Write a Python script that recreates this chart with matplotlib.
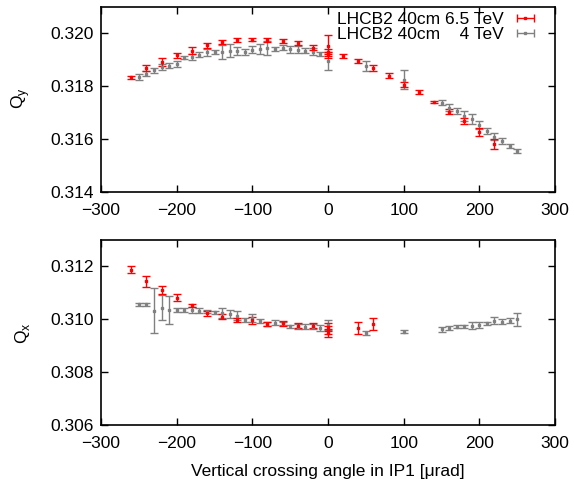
import matplotlib
matplotlib.use('Agg')
import matplotlib.pyplot as plt
import numpy as np

plt.rcParams['font.family'] = ['Liberation Sans', 'DejaVu Sans']
plt.rcParams['font.size'] = 12.5

RED = '#ff0000'
GRAY = '#808080'

# --- top panel (Qy) ---
qy_red_x = [-260, -240, -220, -200, -180, -160, -140, -120, -100, -80, -60, -40, -20,
            0, 0, 0, 20, 40, 60, 80, 100, 120, 140, 160, 180, 200, 220]
qy_red_y = [0.31834, 0.31869, 0.31891, 0.31916, 0.31934, 0.31955, 0.31966, 0.31975, 0.31975,
            0.31975, 0.31971, 0.31963, 0.31946, 0.31950, 0.31931, 0.31921, 0.31915, 0.31894,
            0.31869, 0.31840, 0.31806, 0.31778, 0.31740, 0.31704, 0.31669, 0.31629, 0.31581]
qy_red_err = [0.00006, 0.00010, 0.00014, 0.00010, 0.00013, 0.00009, 0.00008, 0.00008, 0.00006,
              0.00008, 0.00008, 0.00008, 0.00010, 0.00042, 0.00008, 0.00008, 0.00008, 0.00008,
              0.00010, 0.00010, 0.00010, 0.00008, 0.00005, 0.00009, 0.00013, 0.00015, 0.00019]

qy_gray_x = [-250, -240, -230, -220, -210, -200, -190, -180, -170, -160, -150, -140, -130,
             -120, -110, -100, -90, -80, -70, -60, -50, -40, -30, -20, -10, 0,
             50, 100, 150, 160, 170, 180, 190, 200, 210, 220, 230, 240, 250]
qy_gray_y = [0.31835, 0.31848, 0.31860, 0.31873, 0.31878, 0.31884, 0.31908, 0.31910, 0.31919,
             0.31928, 0.31928, 0.31929, 0.31934, 0.31934, 0.31929, 0.31938, 0.31941, 0.31944,
             0.31941, 0.31946, 0.31940, 0.31938, 0.31934, 0.31931, 0.31923, 0.31896,
             0.31878, 0.31825, 0.31738, 0.31719, 0.31706, 0.31688, 0.31675, 0.31653, 0.31631,
             0.31610, 0.31594, 0.31575, 0.31556]
qy_gray_err = [0.000125, 0.00010, 0.00010, 0.00010, 0.00008, 0.00010, 0.00006, 0.00010, 0.00010,
               0.00013, 0.00008, 0.00025, 0.00025, 0.00015, 0.00010, 0.00012, 0.00020, 0.00025,
               0.00008, 0.00010, 0.00013, 0.00013, 0.00010, 0.00015, 0.00008, 0.00035,
               0.00019, 0.00035, 0.00010, 0.00013, 0.00012, 0.00019, 0.00019, 0.00015, 0.00013,
               0.00012, 0.00010, 0.00008, 0.00008]

# --- bottom panel (Qx) ---
qx_red_x = [-260, -240, -220, -200, -180, -160, -140, -120, -100, -80, -60, -40, -20,
            0, 0, 0, 40, 60]
qx_red_y = [0.31187, 0.31143, 0.31111, 0.31082, 0.31053, 0.31023, 0.31010, 0.30997, 0.30997,
            0.30982, 0.30985, 0.30976, 0.30976, 0.30972, 0.30960, 0.30949, 0.30966, 0.30981]
qx_red_err = [0.00013, 0.00019, 0.00016, 0.00013, 0.00006, 0.00010, 0.00009, 0.00009, 0.00013,
              0.00009, 0.00010, 0.00010, 0.00010, 0.00015, 0.00015, 0.00015, 0.00023, 0.00023]

qx_gray_x = [-250, -240, -230, -220, -210, -200, -190, -180, -170, -160, -150, -140, -130,
             -120, -110, -100, -90, -80, -70, -60, -50, -40, -30, -20, -10, 0,
             50, 100, 150, 160, 170, 180, 190, 200, 210, 220, 230, 240, 250]
qx_gray_y = [0.31056, 0.31056, 0.31033, 0.31044, 0.31035, 0.31035, 0.31035, 0.31035, 0.31033,
             0.31029, 0.31027, 0.31023, 0.31019, 0.31014, 0.30997, 0.31004, 0.30994, 0.30982,
             0.30987, 0.30985, 0.30973, 0.30972, 0.30972, 0.30972, 0.30967, 0.30978,
             0.30947, 0.30953, 0.30962, 0.30968, 0.30972, 0.30973, 0.30976, 0.30978, 0.30985,
             0.30995, 0.30991, 0.30995, 0.31000]
qx_gray_err = [0.00004, 0.00004, 0.00086, 0.00047, 0.00054, 0.00006, 0.00008, 0.00010, 0.00010,
               0.00005, 0.00006, 0.00019, 0.00016, 0.00016, 0.00006, 0.00015, 0.00007, 0.00008,
               0.00010, 0.00006, 0.00005, 0.00010, 0.00010, 0.00010, 0.00010, 0.00020,
               0.00007, 0.00006, 0.00010, 0.00008, 0.00005, 0.00007, 0.00013, 0.00010, 0.00005,
               0.00013, 0.00010, 0.00010, 0.00025]

x_ticks = [-300, -200, -100, 0, 100, 200, 300]
qy_ticks = [0.314, 0.316, 0.318, 0.320]
qx_ticks = [0.306, 0.308, 0.310, 0.312]

label_red = 'LHCB2 40cm 6.5 TeV'
label_gray = 'LHCB2 40cm    4 TeV'

fig = plt.figure(figsize=(5.74, 4.79), dpi=100)
ax_top = fig.add_axes([101 / 574, 1 - 192.3 / 479, 454 / 574, 185.6 / 479])
ax_bot = fig.add_axes([101 / 574, 1 - 425 / 479, 454 / 574, 185 / 479])

style = dict(fmt='s', markersize=2.0, elinewidth=1.0, capsize=3, capthick=1.0, linestyle='none')


def draw(ax, gx, gy, ge, rx, ry, re):
    ax.errorbar(gx, gy, yerr=ge, color=GRAY, **style)
    ax.errorbar(rx, ry, yerr=re, color=RED, **style)
    ax.set_xlim(-300, 300)
    ax.set_xticks(x_ticks)
    ax.tick_params(direction='in', top=True, right=True, length=5, width=1.0)
    ax.tick_params(axis='x', pad=8)
    ax.tick_params(axis='y', pad=5)
    for s in ax.spines.values():
        s.set_linewidth(1.2)


draw(ax_top, qy_gray_x, qy_gray_y, qy_gray_err, qy_red_x, qy_red_y, qy_red_err)
ax_top.set_ylim(0.314, 0.321)
ax_top.set_yticks(qy_ticks)
ax_top.set_yticklabels([f'{v:.3f}' for v in qy_ticks])
ax_top.set_ylabel('Q$_\\mathregular{y}$')
ax_top.yaxis.set_label_coords(-0.152, 0.508)

draw(ax_bot, qx_gray_x, qx_gray_y, qx_gray_err, qx_red_x, qx_red_y, qx_red_err)
ax_bot.set_ylim(0.306, 0.313)
ax_bot.set_yticks(qx_ticks)
ax_bot.set_yticklabels([f'{v:.3f}' for v in qx_ticks])
ax_bot.set_ylabel('Q$_\\mathregular{x}$')
ax_bot.yaxis.set_label_coords(-0.152, 0.497)
ax_bot.set_xlabel('Vertical crossing angle in IP1 [μrad]', labelpad=9)

# legend samples drawn gnuplot-style (horizontal bar with caps)
h_red = ax_top.errorbar([np.nan], [np.nan], xerr=[1], color=RED, **style)
h_gray = ax_top.errorbar([np.nan], [np.nan], xerr=[1], color=GRAY, **style)
ax_top.legend([h_red, h_gray], [label_red, label_gray], loc='upper right',
              bbox_to_anchor=(1 - 20 / 454, 1 - 5 / 185.6), frameon=False,
              markerfirst=False, borderaxespad=0, borderpad=0, labelspacing=0.0,
              handlelength=1.1, handletextpad=0.7)

fig.savefig('out.png', dpi=100)
